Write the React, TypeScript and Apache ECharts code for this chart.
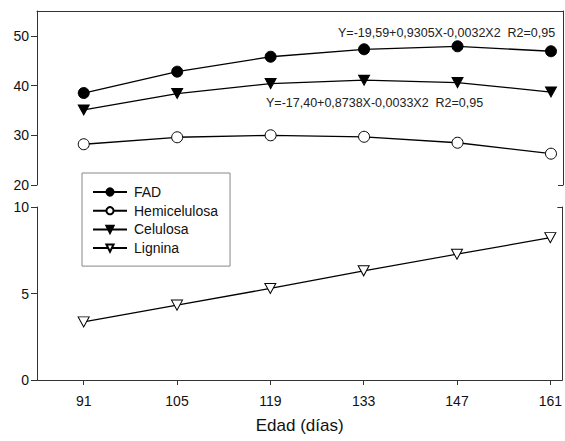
import React, { useEffect, useRef } from "react";
import * as echarts from "echarts";

const days = [91, 105, 119, 133, 147, 161];
const fad = [38.5, 42.8, 45.8, 47.3, 47.9, 46.9];
const hemicelulosa = [28.2, 29.6, 30.0, 29.7, 28.5, 26.3];
const celulosa = [35.1, 38.4, 40.4, 41.1, 40.6, 38.7];
const lignina = [3.36, 4.33, 5.29, 6.31, 7.27, 8.23];
const upperTicks = [20, 30, 40, 50];
const lowerTicks = [0, 5, 10];
const eq1 = "Y=-19,59+0,9305X-0,0032X2  R2=0,95";
const eq2 = "Y=-17,40+0,8738X-0,0033X2  R2=0,95";

const FONT = "Arial, 'Liberation Sans', Helvetica, sans-serif";
const AX = "#333";
const TRI = "path://M0,0L10,0L5,9Z";

const pairs = (vals: number[]) => days.map((d, i) => [d, vals[i]]);

export default function App() {
  const ref = useRef<HTMLDivElement>(null);
  useEffect(() => {
    if (!ref.current) return;
    const chart = echarts.init(ref.current, null, { renderer: "svg" });
    const lineStyle = { color: "#000", width: 1.3 };
    const xCommon = { type: "value", min: 84, max: 162.8, splitLine: { show: false } };
    chart.setOption({
      animation: false,
      backgroundColor: "#fff",
      textStyle: { fontFamily: FONT },
      grid: [
        { left: 37, right: 2, top: 11, height: 174 },
        { left: 37, right: 2, top: 207, height: 173 },
      ],
      xAxis: [
        {
          ...xCommon,
          gridIndex: 0,
          position: "top",
          axisLine: { show: true, lineStyle: { color: AX, width: 1 } },
          axisTick: { show: false },
          axisLabel: { show: false },
        },
        {
          ...xCommon,
          gridIndex: 1,
          position: "bottom",
          name: "Edad (días)",
          nameLocation: "middle",
          nameGap: 37,
          nameTextStyle: { fontSize: 17, color: "#111", fontFamily: FONT },
          axisLine: { show: true, lineStyle: { color: AX, width: 1 } },
          axisTick: { show: true, length: 5, customValues: days, lineStyle: { color: AX } },
          axisLabel: { show: true, customValues: days, margin: 14, fontSize: 14, color: "#111", fontFamily: FONT },
        },
      ],
      yAxis: [
        {
          type: "value",
          gridIndex: 0,
          position: "left",
          min: 20,
          max: 55,
          interval: 10,
          splitLine: { show: false },
          axisLine: { show: true, lineStyle: { color: AX, width: 1 } },
          axisTick: { show: true, length: 6, customValues: upperTicks, lineStyle: { color: AX } },
          axisLabel: { customValues: upperTicks, margin: 8, fontSize: 14, color: "#111", fontFamily: FONT },
        },
        {
          type: "value",
          gridIndex: 0,
          position: "right",
          min: 20,
          max: 55,
          splitLine: { show: false },
          axisLine: { show: true, lineStyle: { color: AX, width: 1 } },
          axisTick: { show: true, inside: true, length: 5, customValues: [20], lineStyle: { color: AX } },
          axisLabel: { show: false },
        },
        {
          type: "value",
          gridIndex: 1,
          position: "left",
          min: 0,
          max: 10,
          interval: 5,
          splitLine: { show: false },
          axisLine: { show: true, lineStyle: { color: AX, width: 1 } },
          axisTick: { show: true, length: 6, customValues: lowerTicks, lineStyle: { color: AX } },
          axisLabel: { customValues: lowerTicks, margin: 8, fontSize: 14, color: "#111", fontFamily: FONT },
        },
        {
          type: "value",
          gridIndex: 1,
          position: "right",
          min: 0,
          max: 10,
          splitLine: { show: false },
          axisLine: { show: true, lineStyle: { color: AX, width: 1 } },
          axisTick: { show: true, inside: true, length: 5, customValues: [10], lineStyle: { color: AX } },
          axisLabel: { show: false },
        },
      ],
      legend: {
        orient: "vertical",
        left: 82,
        top: 173,
        padding: [12, 12, 11, 10],
        borderColor: "#888",
        borderWidth: 1,
        backgroundColor: "#fff",
        itemWidth: 34,
        itemHeight: 9,
        itemGap: 4.7,
        textStyle: { fontSize: 14, lineHeight: 14, color: "#111", fontFamily: FONT, padding: [0, 0, 0, 2] },
        data: ["FAD", "Hemicelulosa", "Celulosa", "Lignina"],
      },
      graphic: [
        {
          type: "text",
          x: 338,
          y: 33,
          style: { text: eq1, font: `12.5px ${FONT}`, fill: "#222", verticalAlign: "middle" },
        },
        {
          type: "text",
          x: 266,
          y: 103,
          style: { text: eq2, font: `12.5px ${FONT}`, fill: "#222", verticalAlign: "middle" },
        },
      ],
      series: [
        {
          name: "FAD",
          type: "line",
          xAxisIndex: 0,
          yAxisIndex: 0,
          data: pairs(fad),
          symbol: "circle",
          symbolSize: 11,
          lineStyle,
          itemStyle: { color: "#000", borderColor: "#000", borderWidth: 1 },
        },
        {
          name: "Hemicelulosa",
          type: "line",
          xAxisIndex: 0,
          yAxisIndex: 0,
          data: pairs(hemicelulosa),
          symbol: "circle",
          symbolSize: 11,
          lineStyle,
          itemStyle: { color: "#fff", borderColor: "#000", borderWidth: 1 },
        },
        {
          name: "Celulosa",
          type: "line",
          xAxisIndex: 0,
          yAxisIndex: 0,
          data: pairs(celulosa),
          symbol: TRI,
          symbolSize: [11, 10],
          lineStyle,
          itemStyle: { color: "#000", borderColor: "#000", borderWidth: 1 },
        },
        {
          name: "Lignina",
          type: "line",
          xAxisIndex: 1,
          yAxisIndex: 2,
          data: pairs(lignina),
          symbol: TRI,
          symbolSize: [11, 10],
          lineStyle,
          itemStyle: { color: "#fff", borderColor: "#000", borderWidth: 1 },
        },
      ],
    });
    return () => chart.dispose();
  }, []);
  return (
    <div
      ref={ref}
      style={{ position: "fixed", left: 0, top: 0, width: 565, height: 441, background: "#fff" }}
    />
  );
}
